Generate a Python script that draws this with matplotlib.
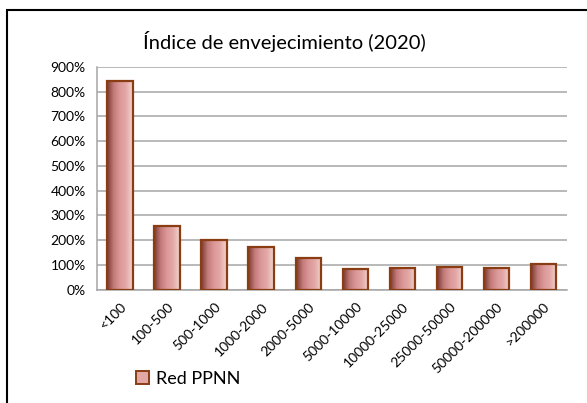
import numpy as np
import matplotlib
matplotlib.use("Agg")
import matplotlib.pyplot as plt
from matplotlib.colors import LinearSegmentedColormap
from matplotlib.patches import Patch, Rectangle

plt.rcParams['font.family'] = ['Lato', 'DejaVu Sans']

# Datos
categorias = ['<100', '100-500', '500-1000', '1000-2000', '2000-5000', '5000-10000',
              '10000-25000', '25000-50000', '50000-200000', '>200000']
indice = [8.44, 2.58, 2.01, 1.70, 1.26, 0.85, 0.88, 0.92, 0.86, 1.03]
serie = 'Red PPNN'
titulo = 'Índice de envejecimiento (2020)'

borde = '#8a3c12'
degradado = LinearSegmentedColormap.from_list(
    'rosa', ['#7a3a30', '#c27a78', '#db9898', '#e4aaa8', '#f4d6d0'])

fig = plt.figure(figsize=(5.87, 4.03), dpi=100)
ax = fig.add_axes([0.165, 0.2816, 0.801, 0.552])

x = np.arange(len(categorias))
barras = ax.bar(x, indice, width=0.55, facecolor='none', edgecolor=borde, linewidth=1.6, zorder=3)

# relleno con degradado horizontal dentro de cada barra
grad = np.linspace(0, 1, 64).reshape(1, -1)
for b in barras:
    x0, y0 = b.get_x(), b.get_y()
    im = ax.imshow(grad, cmap=degradado, aspect='auto', zorder=2,
                   extent=[x0, x0 + b.get_width(), y0, y0 + b.get_height()])
    im.set_clip_path(b)

ax.set_xlim(-0.5, len(categorias) - 0.5)
ax.set_ylim(0, 9)
ax.set_yticks(np.arange(0, 10))
ax.set_yticklabels(['%d%%' % (v * 100) for v in range(10)], fontsize=10)
ax.set_xticks(x)
ax.set_xticklabels(categorias, rotation=45, ha='right', rotation_mode='anchor', fontsize=10)
ax.tick_params(length=0)
ax.tick_params(axis='x', pad=8)
ax.tick_params(axis='y', pad=8)

ax.grid(axis='y', color='#a6a6a6', linewidth=1.1, zorder=0)
ax.set_axisbelow(True)
for s in ['top', 'right']:
    ax.spines[s].set_visible(False)
for s in ['left', 'bottom']:
    ax.spines[s].set_color('#a6a6a6')
    ax.spines[s].set_linewidth(1.1)

fig.text(0.484, 0.897, titulo, ha='center', va='center', fontsize=14.5)

leyenda = [Patch(facecolor='#e2a8a6', edgecolor=borde, linewidth=1.4, label=serie)]
fig.legend(handles=leyenda, loc='center', bbox_to_anchor=(0.32, 0.06), frameon=False,
           fontsize=13, handlelength=0.75, handleheight=0.75, handletextpad=0.35)

# marco exterior del grafico
fig.patches.append(Rectangle((7 / 587, -0.1), 1.2, 1.1 - 10 / 403, transform=fig.transFigure,
                             fill=False, edgecolor='black', linewidth=1.5))

fig.savefig('out.png', dpi=100)
